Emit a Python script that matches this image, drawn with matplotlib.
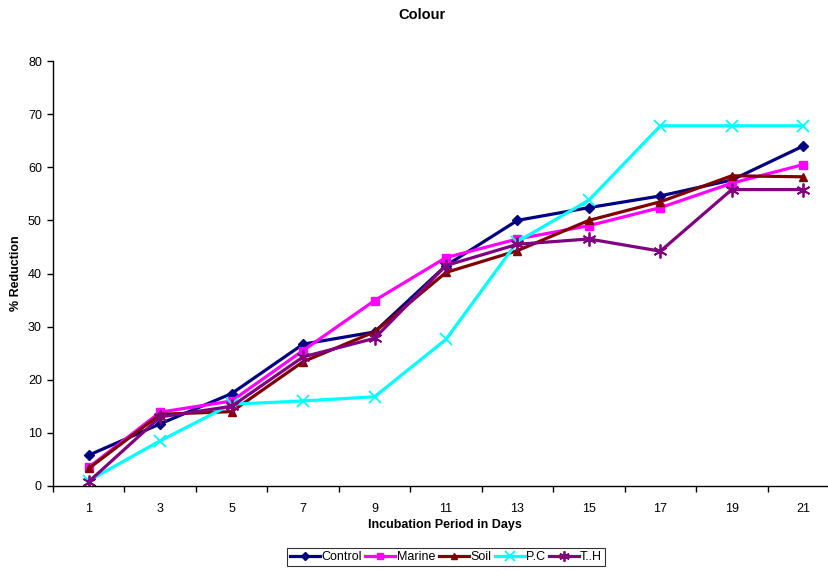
import matplotlib
matplotlib.use("Agg")
import matplotlib.pyplot as plt
import numpy as np

plt.rcParams['font.family'] = ['Liberation Sans', 'DejaVu Sans']

days = ["1", "3", "5", "7", "9", "11", "13", "15", "17", "19", "21"]
control = [5.8, 11.7, 17.4, 26.7, 29.0, 41.5, 50.0, 52.4, 54.6, 57.6, 64.0]
marine = [3.5, 13.9, 16.0, 25.5, 34.9, 43.0, 46.5, 49.0, 52.4, 57.0, 60.5]
soil = [3.3, 13.5, 14.0, 23.4, 29.0, 40.2, 44.3, 50.0, 53.5, 58.4, 58.2]
pc = [1.0, 8.5, 15.4, 16.0, 16.8, 27.6, 46.0, 53.8, 67.8, 67.8, 67.8]
th = [0.8, 13.0, 15.0, 24.3, 27.8, 41.5, 45.5, 46.5, 44.2, 55.8, 55.8]

series = [
    ("Control", control, "#000080", "D", 5),
    ("Marine", marine, "#FF00FF", "s", 6),
    ("Soil", soil, "#800000", "^", 6),
    ("P.C", pc, "#00FFFF", "x", 9),
    ("T..H", th, "#800080", (6, 2, 0), 10),
]

fig = plt.figure(figsize=(8.29, 5.71), dpi=100)
ax = fig.add_axes([53/829, 1-486/571, (839-53)/829, (486-61)/571])
x = np.arange(len(days))
for name, vals, col, mk, ms in series:
    if mk in ("x", (6, 2, 0)):
        ax.plot(x, vals, color=col, lw=2.3, marker=mk, ms=ms, mew=1.3, label=name)
    else:
        ax.plot(x, vals, color=col, lw=2.3, marker=mk, ms=ms, label=name)

ax.set_xlim(-0.5, len(days) - 0.5)
ax.set_ylim(0, 80)
ax.set_yticks(np.arange(0, 81, 10))
ax.set_xticks(x)
ax.set_xticklabels(days)
ax.set_xticks(np.arange(-0.5, len(days), 1), minor=True)
ax.tick_params(axis='x', which='major', length=0, pad=12, labelsize=9)
ax.tick_params(axis='x', which='minor', length=4, direction='out', width=1)
ax.tick_params(axis='y', length=4, direction='out', width=1, labelsize=9, pad=4)
for s in ['top', 'right']:
    ax.spines[s].set_visible(False)
for s in ['left', 'bottom']:
    ax.spines[s].set_linewidth(1)

fig.text(422/829, 1-15/571, "Colour", ha='center', va='center', fontsize=10.5, fontweight='bold')
fig.text(445/829, 1-525/571, "Incubation Period in Days", ha='center', va='center',
         fontsize=9, fontweight='bold')
fig.text(16/829, 1-273/571, "% Reduction", ha='center', va='center', rotation=90,
         fontsize=9, fontweight='bold')

leg = fig.legend(loc='center', bbox_to_anchor=(446/829, 1-557/571), ncol=5, fontsize=9,
                 frameon=True, fancybox=False, edgecolor='black', handlelength=2.4,
                 handletextpad=0.1, columnspacing=0.3, borderpad=0.25, markerscale=0.75)
leg.get_frame().set_linewidth(0.8)

fig.savefig("out.png", dpi=100)
